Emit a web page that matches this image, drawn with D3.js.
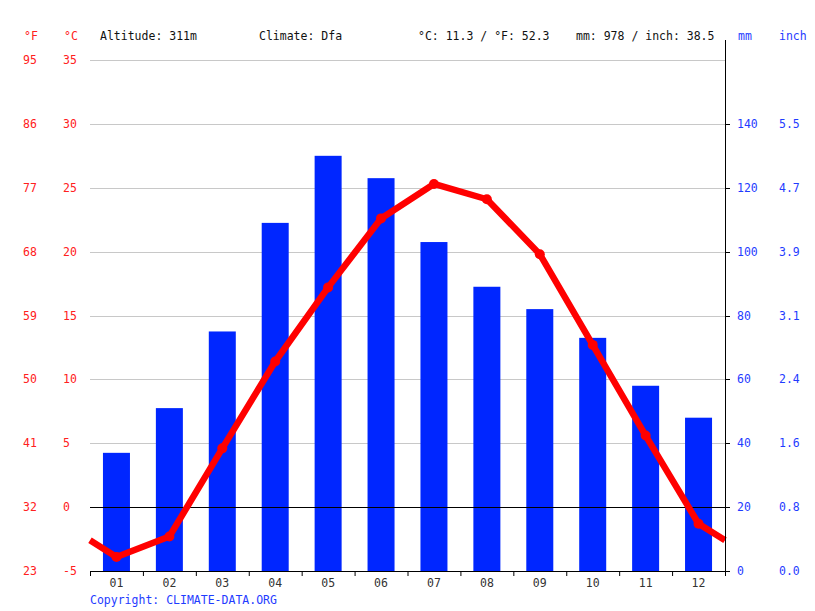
<!DOCTYPE html>
<html><head><meta charset="utf-8">
<script src="https://cdn.jsdelivr.net/npm/d3@7"></script>
<style>
html,body{margin:0;padding:0;background:#fff;}
svg text{font-family:"DejaVu Sans Mono",monospace;font-size:11.5px;}
</style></head>
<body><svg id="c" width="815" height="611"></svg>
<script>
const months = ["01","02","03","04","05","06","07","08","09","10","11","12"];
const precipMM = [37,51,75,109,130,123,103,89,82,73,58,48];
const tempC = [-3.9,-2.3,4.6,11.4,17.2,22.6,25.3,24.1,19.8,12.7,5.6,-1.3];
const cTicks = [-5,0,5,10,15,20,25,30,35];
const fTicks = [23,32,41,50,59,68,77,86,95];
const mmTicks = [0,20,40,60,80,100,120,140];
const inchTicks = ["0.0","0.8","1.6","2.4","3.1","3.9","4.7","5.5"];
const header = ["Altitude: 311m","Climate: Dfa","°C: 11.3 / °F: 52.3","mm: 978 / inch: 38.5"];

const RED="#ff0000", BLUE="#0026ff", TXTBLUE="#1f3cff", TXTRED="#ff2020";
const L=90, R=725, T=60, B=571;
const svg=d3.select("#c");
const x=d3.scaleBand().domain(months).range([L,R]);
const yT=d3.scaleLinear().domain([-5,35]).range([B,T]);
const yP=d3.scaleLinear().domain([0,160]).range([B,T]);

// grid
svg.append("g").selectAll("line").data(cTicks.filter(d=>d!==-5)).join("line")
  .attr("x1",L).attr("x2",R).attr("y1",d=>Math.round(yT(d))+0.5).attr("y2",d=>Math.round(yT(d))+0.5)
  .attr("stroke",d=>d===0?"#000":"#c8c8c8").attr("stroke-width",1);

// bars
const bw=27;
svg.append("g").selectAll("rect").data(precipMM).join("rect")
  .attr("x",(d,i)=>x(months[i])+x.bandwidth()/2-bw/2)
  .attr("width",bw)
  .attr("y",d=>yP(d)).attr("height",d=>yP(0)-yP(d))
  .attr("fill",BLUE);

// zero line on top of bars
svg.append("line").attr("x1",L).attr("x2",R).attr("y1",Math.round(yT(0))+0.5).attr("y2",Math.round(yT(0))+0.5).attr("stroke","#000");

// temperature line with edge continuation
const edge=(tempC[0]+tempC[11])/2;
const pts=[[L,yT(edge)]].concat(tempC.map((d,i)=>[x(months[i])+x.bandwidth()/2,yT(d)])).concat([[R,yT(edge)]]);
svg.append("path").attr("d",d3.line()(pts)).attr("fill","none").attr("stroke",RED).attr("stroke-width",6.5).attr("stroke-linejoin","round");
svg.append("g").selectAll("circle").data(tempC).join("circle")
  .attr("cx",(d,i)=>x(months[i])+x.bandwidth()/2).attr("cy",d=>yT(d)).attr("r",5).attr("fill",RED);

// bottom axis
const bAxis=svg.append("g").attr("transform",`translate(0,${B})`)
  .call(d3.axisBottom(x).tickSize(0).tickPadding(11));
bAxis.select(".domain").attr("stroke","#000").attr("d",`M${L},0.5H${R}`);
bAxis.selectAll("text").attr("y",15.5).attr("dy",null).attr("fill","#333").style("font-size","11.5px").style("font-family","DejaVu Sans Mono");
svg.append("g").selectAll("line").data(d3.range(13)).join("line")
  .attr("x1",i=>L+i*x.step()+0.5).attr("x2",i=>L+i*x.step()+0.5)
  .attr("y1",B).attr("y2",B+5).attr("stroke","#000");

// right axis
svg.append("line").attr("x1",R+0.5).attr("x2",R+0.5).attr("y1",40).attr("y2",B+5).attr("stroke","#000");
svg.append("g").selectAll("line").data(mmTicks).join("line")
  .attr("x1",R).attr("x2",R+5).attr("y1",d=>Math.round(yP(d))+0.5).attr("y2",d=>Math.round(yP(d))+0.5).attr("stroke","#000");
svg.append("g").selectAll("text").data(mmTicks).join("text")
  .attr("x",737).attr("y",d=>yP(d)).attr("dy","0.35em").attr("fill",TXTBLUE).text(d=>d);
svg.append("g").selectAll("text").data(inchTicks).join("text")
  .attr("x",779).attr("y",(d,i)=>yP(mmTicks[i])).attr("dy","0.35em").attr("fill",TXTBLUE).text(d=>d);

// left labels
svg.append("g").selectAll("text").data(cTicks).join("text")
  .attr("x",63).attr("y",d=>yT(d)).attr("dy","0.35em").attr("fill",TXTRED).text(d=>d);
svg.append("g").selectAll("text").data(fTicks).join("text")
  .attr("x",23).attr("y",(d,i)=>yT(cTicks[i])).attr("dy","0.35em").attr("fill",TXTRED).text(d=>d);

// header
svg.append("text").attr("x",24).attr("y",40).attr("fill",TXTRED).text("°F");
svg.append("text").attr("x",64).attr("y",40).attr("fill",TXTRED).text("°C");
svg.append("text").attr("x",738).attr("y",40).attr("fill",TXTBLUE).text("mm");
svg.append("text").attr("x",779).attr("y",40).attr("fill",TXTBLUE).text("inch");
const hx=[100,259,418,576];
svg.append("g").selectAll("text").data(header).join("text")
  .attr("x",(d,i)=>hx[i]).attr("y",40).attr("fill","#111").text(d=>d);

svg.append("text").attr("x",90).attr("y",604).attr("fill",TXTBLUE).text("Copyright: CLIMATE-DATA.ORG");
</script></body></html>
